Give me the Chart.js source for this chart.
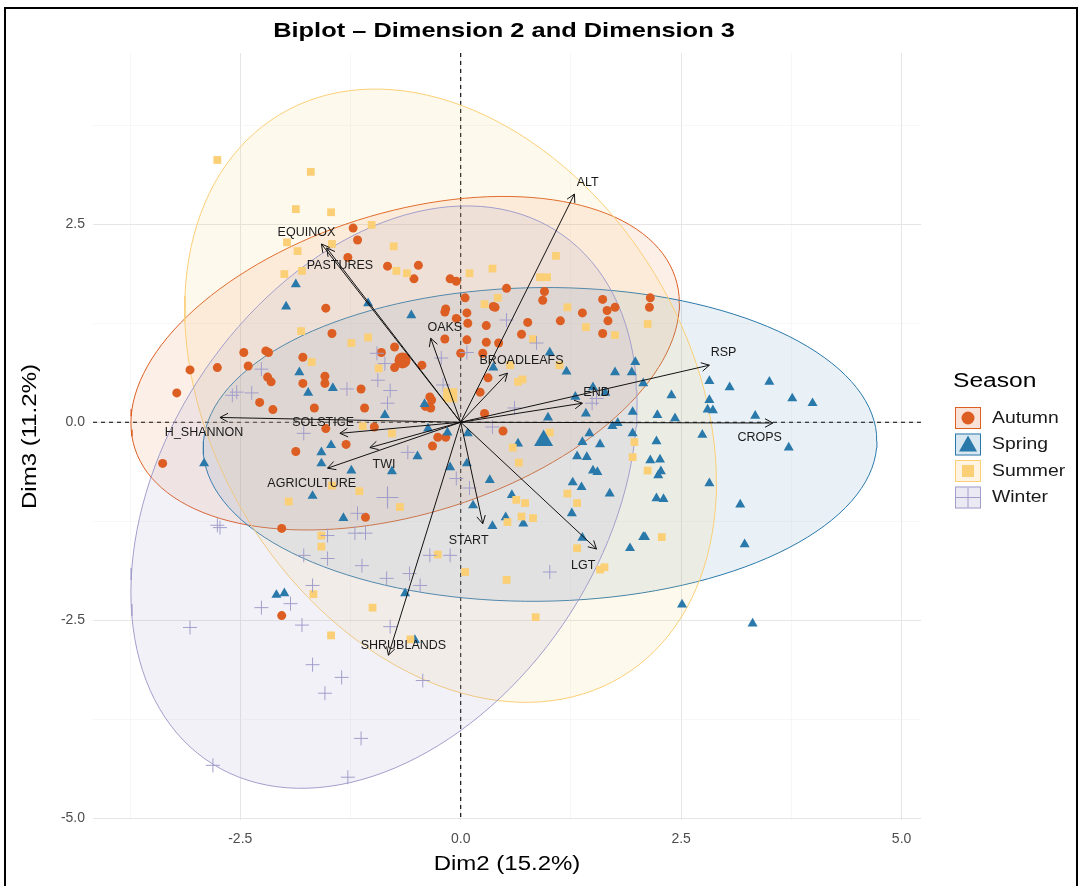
<!DOCTYPE html>
<html>
<head>
<meta charset="utf-8">
<script src="https://cdn.jsdelivr.net/npm/chart.js@4.4.0/dist/chart.umd.min.js"></script>
<style>
  body { margin: 0; background: #fff; }
</style>
</head>
<body>
<canvas id="biplot" width="1081" height="886"></canvas>
<script>
// individuals (Dim2, Dim3) per season
const autumnX = [-1.22,-1.17,-1.28,-1.53,-0.83,-0.48,-0.53,-0.12,-0.05,0.52,0.95,0.93,0.05,0.37,1.61,1.75,-0.17,2.15,2.14,-1.46,-2.46,-2.21,-2.18,-3.07,-2.76,-2.41,-1.79,-2.19,-2.15,-1.79,-1.54,-1.54,-1.13,-3.22,-2.28,-2.13,-1.66,-1.09,-1.53,-1.30,-1.87,-3.38,-2.03,-1.08,-0.18,0.07,-0.05,0.08,0.39,0.29,0.76,1.13,1.38,1.66,1.67,1.61,-0.18,0.07,0.29,0.43,0.00,0.25,0.69,-0.90,-0.75,-0.44,-0.75,0.31,0.22,0.27,0.48,-0.35,-0.33,-0.40,-0.34,-0.26,-0.17,-0.32,-0.98,-2.03];
const autumnY = [2.45,2.30,2.08,1.44,1.97,1.98,1.81,1.81,1.78,1.69,1.65,1.54,1.57,1.46,1.55,1.45,1.43,1.57,1.45,1.12,0.88,0.90,0.88,0.66,0.69,0.71,0.82,0.57,0.51,0.49,0.58,0.49,0.42,0.37,0.25,0.16,0.18,0.18,-0.08,-0.28,-0.37,-0.52,-1.34,-1.20,1.39,1.38,1.31,1.25,1.45,1.22,1.26,1.28,1.38,1.41,1.28,1.12,1.05,1.04,1.01,1.00,0.87,0.87,1.11,0.88,0.95,0.72,0.69,0.56,0.38,0.11,-0.11,0.32,0.28,0.20,0.18,-0.19,-0.19,-0.30,-0.06,-2.44];

const springX = [-1.87,-1.98,-1.05,-1.83,-1.73,-1.45,-1.47,-1.58,-1.58,-1.24,-1.68,-1.33,-2.91,-0.56,1.01,0.37,1.20,1.75,1.94,1.98,2.07,1.30,1.50,1.64,0.99,1.42,1.95,1.72,1.78,1.95,1.46,1.38,1.58,0.65,0.08,-0.15,-0.37,-0.49,-0.78,0.07,1.32,1.43,1.50,1.55,1.69,1.27,1.37,0.33,-0.12,0.14,0.36,0.51,0.71,0.58,1.26,1.38,1.92,2.07,-0.41,-0.86,2.82,3.05,3.50,3.76,3.99,2.39,2.23,2.43,2.82,2.80,2.86,3.34,2.74,3.72,2.22,2.15,2.26,2.27,2.24,2.82,2.22,2.30,3.17,2.09,3.22,2.51,3.31,-2.09,-2.00,-0.63,-0.52];
const springY = [1.74,1.46,1.50,0.63,0.37,0.43,-0.29,-0.38,-0.52,-0.61,-0.93,-1.21,-0.52,1.35,0.88,0.69,0.64,0.63,0.63,0.76,0.49,0.32,0.44,0.37,0.06,0.11,0.13,-0.05,-0.01,-0.14,-0.14,-0.25,-0.28,-0.27,-0.14,-0.13,-0.08,-0.43,-0.62,-0.52,-0.43,-0.44,-0.61,-0.63,-0.90,-0.76,-0.82,-0.73,-0.57,-1.05,-1.31,-1.20,-1.28,-0.92,-1.15,-1.46,-1.59,-1.45,0.23,0.09,0.52,0.44,0.51,0.30,0.24,0.34,0.09,0.05,0.28,0.16,0.15,0.08,-0.16,-0.32,-0.24,-0.48,-0.47,-0.62,-0.67,-0.77,-0.96,-0.97,-1.04,-1.45,-1.54,-2.30,-2.54,-2.18,-2.16,-2.16,-2.75];

const summerX = [-2.76,-1.70,-1.87,-1.47,-1.97,-1.85,-1.46,-2.00,-1.80,-1.01,-0.76,1.08,0.10,0.36,0.90,0.98,-0.73,-0.61,0.27,0.42,1.21,-1.81,-1.24,-1.05,-1.69,-1.11,-1.46,-1.15,-1.95,-1.58,-1.58,1.42,1.75,0.82,1.12,0.65,0.70,0.56,-0.93,-0.78,-0.69,0.59,0.66,1.01,1.21,1.32,0.63,0.73,0.53,0.69,0.82,-0.26,1.32,1.97,1.95,2.12,2.12,2.28,-1.67,-1.47,-1.00,0.05,0.52,0.85,1.58,1.63,-0.57];
const summerY = [3.31,3.16,2.69,2.65,2.27,2.16,2.25,1.87,1.91,2.49,2.22,2.10,1.88,1.94,1.83,1.83,1.91,1.88,1.49,1.57,1.45,1.15,1.00,1.07,0.76,-0.05,-0.80,-0.87,-1.00,-1.43,-1.57,1.20,1.10,1.05,0.72,0.51,0.54,0.72,0.68,-0.14,-1.07,-0.32,-0.51,-0.13,-0.90,-1.02,-0.98,-1.02,-1.26,-1.19,-1.21,-1.67,-1.59,-0.25,-0.44,-0.61,1.24,-1.45,-2.17,-2.69,-2.34,-1.89,-1.99,-2.46,-1.86,-1.83,-2.74];

const winterX = [-2.26,-2.54,-2.37,-2.59,-1.78,-1.29,-2.76,-2.73,-1.17,-1.51,-1.20,-1.08,-1.78,-1.51,-1.12,0.52,0.86,-0.95,-0.86,-0.80,-0.83,-0.94,-0.20,0.07,-0.22,0.36,0.61,-0.60,-0.05,0.10,1.54,1.49,-0.35,-0.12,-3.07,-2.26,-1.93,-1.80,-1.68,-1.68,-1.35,-1.54,-1.13,-2.81,-1.28,-0.84,-0.58,-0.46,-0.80,-0.43,1.01];
const winterY = [0.67,0.38,0.37,0.34,-0.14,0.42,-1.30,-1.33,-1.15,-1.43,-1.40,-1.40,-1.68,-1.72,-1.81,1.29,1.00,0.87,0.74,0.40,0.24,0.53,0.47,0.88,0.81,-0.06,0.18,-0.38,-0.71,-0.83,0.30,0.24,-1.68,-1.68,-2.59,-2.34,-2.29,-2.56,-2.06,-3.06,-3.22,-3.42,-3.99,-4.33,-4.48,-1.97,-1.91,-2.06,-2.58,-3.26,-1.89];

// group means (Autumn, Spring, Summer, Winter)
const seasons = ["Autumn", "Spring", "Summer", "Winter"];
const meanX = [-0.66, 0.94, -0.12, -0.83];
const meanY = [0.78, -0.23, 0.34, -0.95];

// concentration ellipses: x = cx + ax*cos(t), y = cy + ay*cos(t - phi)
const ellCx = [-0.63, 0.90, -0.115, -0.87];
const ellCy = [0.745, -0.28, 0.335, -0.945];
const ellAx = [3.11, 3.82, 3.015, 2.87];
const ellAy = [2.105, 1.98, 3.87, 3.675];
const ellPhi = [1.204, 1.55, 1.858, 1.238];

// variable arrows
const varNames = ["ALT","EQUINOX","PASTURES","OAKS","BROADLEAFS","END","RSP","CROPS","LGT","START","SHRUBLANDS","AGRICULTURE","SOLSTICE","TWI","H_SHANNON"];
const varX = [1.29,-1.58,-1.52,-0.34,0.53,1.38,2.82,3.54,1.54,0.25,-0.82,-1.51,-1.37,-1.03,-2.73];
const varY = [2.88,2.25,2.20,1.06,0.62,0.24,0.72,-0.01,-1.60,-1.28,-2.94,-0.58,-0.14,-0.32,0.06];
const labX = [1.44,-1.75,-1.37,-0.18,0.69,1.54,2.98,3.39,1.39,0.09,-0.65,-1.69,-1.56,-0.87,-2.91];
const labY = [3.03,2.40,1.98,1.20,0.78,0.38,0.88,-0.19,-1.81,-1.49,-2.82,-0.77,-0.01,-0.53,-0.13];

// axes
const xTicks = [-3.75,-2.5,-1.25,0,1.25,2.5,3.75,5];
const yTicks = [-5,-3.75,-2.5,-1.25,0,1.25,2.5,3.75];

const colors = ["#DD5E22", "#2A79AB", "#FBCF76", "#A29ECB"];
const fills = ["rgba(221,94,34,0.10)", "rgba(42,121,171,0.10)", "rgba(251,207,118,0.13)", "rgba(162,158,203,0.14)"];
const keyFills = ["rgba(221,94,34,0.18)", "rgba(42,121,171,0.18)", "rgba(251,207,118,0.22)", "rgba(162,158,203,0.22)"];
const shapes = ["circle", "triangle", "rect", "cross"];
const radii = [4.5, 5.8, 5.5, 7];
const meanRadii = [8, 11, 10, 11];

const FONT = "'Liberation Sans', Arial, sans-serif";

function pts(xs, ys) {
  return xs.map((x, i) => ({ x: x, y: ys[i] }));
}

function ellipse(i) {
  const out = [];
  for (let k = 0; k <= 144; k++) {
    const t = (2 * Math.PI * k) / 144;
    out.push({ x: ellCx[i] + ellAx[i] * Math.cos(t), y: ellCy[i] + ellAy[i] * Math.cos(t - ellPhi[i]) });
  }
  return out;
}

// text stretched horizontally (the reference text is wider than Arial)
function wideText(ctx, txt, x, y, sx, rot) {
  ctx.save();
  ctx.translate(x, y);
  if (rot) ctx.rotate(rot);
  ctx.scale(sx, 1);
  ctx.fillText(txt, 0, 0);
  ctx.restore();
}

const groupX = [autumnX, springX, summerX, winterX];
const groupY = [autumnY, springY, summerY, winterY];

let datasets = [];
seasons.forEach((s, i) => {
  datasets.push({
    label: s + " ellipse",
    data: ellipse(i),
    showLine: true,
    fill: "shape",
    backgroundColor: fills[i],
    borderColor: colors[i],
    borderWidth: 1,
    pointRadius: 0,
    tension: 0,
    order: 20 - i,
  });
});
seasons.forEach((s, i) => {
  datasets.push({
    label: s,
    data: pts(groupX[i], groupY[i]),
    pointStyle: shapes[i],
    pointRadius: radii[i],
    backgroundColor: colors[i],
    borderColor: colors[i],
    borderWidth: i == 3 ? 1 : 0,
    order: 10 - i,
  });
  datasets.push({
    label: s + " mean",
    data: [{ x: meanX[i], y: meanY[i] }],
    pointStyle: shapes[i],
    pointRadius: meanRadii[i],
    backgroundColor: colors[i],
    borderColor: colors[i],
    borderWidth: i == 3 ? 1.2 : 0,
    order: 5,
  });
});
varNames.forEach((n, i) => {
  datasets.push({
    label: n,
    data: [{ x: 0, y: 0 }, { x: varX[i], y: varY[i] }],
    showLine: true,
    borderColor: "#111",
    borderWidth: 1,
    pointRadius: 0,
    order: 1,
  });
});

const biplotDecor = {
  id: "biplotDecor",
  beforeDatasetsDraw(chart) {
    const { ctx, chartArea, scales } = chart;
    const x0 = scales.x.getPixelForValue(0);
    const y0 = scales.y.getPixelForValue(0);
    ctx.save();
    ctx.strokeStyle = "#000";
    ctx.lineWidth = 1.1;
    ctx.setLineDash([4, 4]);
    ctx.beginPath();
    ctx.moveTo(x0, chartArea.top);
    ctx.lineTo(x0, chartArea.bottom);
    ctx.moveTo(chartArea.left, y0);
    ctx.lineTo(chartArea.right, y0);
    ctx.stroke();
    ctx.restore();
  },
  afterDatasetsDraw(chart) {
    const { ctx, scales } = chart;
    const ox = scales.x.getPixelForValue(0);
    const oy = scales.y.getPixelForValue(0);
    ctx.save();
    ctx.strokeStyle = "#111";
    ctx.lineWidth = 1;
    varNames.forEach((n, i) => {
      const tx = scales.x.getPixelForValue(varX[i]);
      const ty = scales.y.getPixelForValue(varY[i]);
      const ang = Math.atan2(ty - oy, tx - ox);
      ctx.beginPath();
      ctx.moveTo(tx - 9 * Math.cos(ang - 0.5), ty - 9 * Math.sin(ang - 0.5));
      ctx.lineTo(tx, ty);
      ctx.lineTo(tx - 9 * Math.cos(ang + 0.5), ty - 9 * Math.sin(ang + 0.5));
      ctx.stroke();
    });
    ctx.fillStyle = "#1a1a1a";
    ctx.font = "12.5px " + FONT;
    ctx.textAlign = "center";
    ctx.textBaseline = "middle";
    varNames.forEach((n, i) => {
      ctx.fillText(n, scales.x.getPixelForValue(labX[i]), scales.y.getPixelForValue(labY[i]));
    });
    ctx.restore();
  },
  afterDraw(chart) {
    const { ctx, chartArea } = chart;
    const midX = (chartArea.left + chartArea.right) / 2;
    const midY = (chartArea.top + chartArea.bottom) / 2;
    ctx.save();
    ctx.fillStyle = "#000";
    ctx.textAlign = "center";
    ctx.textBaseline = "middle";
    // title
    ctx.font = "bold 21px " + FONT;
    wideText(ctx, "Biplot \u2013 Dimension 2 and Dimension 3", midX - 3, 31, 1.21);
    // axis titles
    ctx.font = "20px " + FONT;
    wideText(ctx, "Dim2 (15.2%)", midX, 864, 1.2);
    wideText(ctx, "Dim3 (11.2%)", 30, midY, 1.2, -Math.PI / 2);
    // legend
    const lx = chartArea.right + 32;
    ctx.textAlign = "left";
    ctx.font = "20px " + FONT;
    wideText(ctx, "Season", lx, 381, 1.23);
    ctx.font = "17px " + FONT;
    seasons.forEach((s, i) => {
      const cy = 418 + i * 26.5;
      ctx.fillStyle = keyFills[i];
      ctx.fillRect(lx + 2, cy - 11, 26, 22);
      ctx.strokeStyle = colors[i];
      ctx.lineWidth = 1;
      ctx.strokeRect(lx + 2.5, cy - 10.5, 25, 21);
      ctx.fillStyle = colors[i];
      ctx.beginPath();
      if (i == 0) {
        ctx.arc(lx + 15, cy, 6.5, 0, 2 * Math.PI);
        ctx.fill();
      } else if (i == 1) {
        ctx.moveTo(lx + 15, cy - 9);
        ctx.lineTo(lx + 24, cy + 7);
        ctx.lineTo(lx + 6, cy + 7);
        ctx.closePath();
        ctx.fill();
      } else if (i == 2) {
        ctx.fillRect(lx + 9, cy - 6, 12, 12);
      } else {
        ctx.moveTo(lx + 15, cy - 10);
        ctx.lineTo(lx + 15, cy + 10);
        ctx.moveTo(lx + 3, cy);
        ctx.lineTo(lx + 27, cy);
        ctx.stroke();
      }
      ctx.fillStyle = "#1a1a1a";
      wideText(ctx, s, lx + 39, cy, 1.14);
    });
    // outer frame
    ctx.strokeStyle = "#000";
    ctx.lineWidth = 2;
    ctx.strokeRect(5, 8, 1072, 900);
    ctx.restore();
  },
};

const ctx = document.getElementById("biplot").getContext("2d");
const biplot = new Chart(ctx, {
  type: "scatter",
  data: { datasets: datasets },
  options: {
    responsive: false,
    animation: false,
    events: [],
    layout: { padding: { left: 14, right: 160, top: 53, bottom: 0 } },
    plugins: { legend: { display: false }, tooltip: { enabled: false } },
    scales: {
      x: {
        type: "linear",
        min: -4.17,
        max: 5.22,
        afterBuildTicks: (s) => { s.ticks = xTicks.map((v) => ({ value: v })); },
        afterFit: (s) => { s.height = 66; },
        border: { display: false },
        grid: {
          drawTicks: false,
          color: (c) => (c.tick && c.tick.value % 2.5 == 0 ? "#E6E6E6" : "#F1F1F1"),
          lineWidth: (c) => (c.tick && c.tick.value % 2.5 == 0 ? 1 : 0.6),
        },
        ticks: {
          autoSkip: false,
          maxRotation: 0,
          padding: 11,
          color: "#4D4D4D",
          font: { family: FONT, size: 14 },
          callback: (v) => (v % 2.5 == 0 ? v.toFixed(1) : ""),
        },
        title: { display: false },
      },
      y: {
        type: "linear",
        min: -5.02,
        max: 4.66,
        afterBuildTicks: (s) => { s.ticks = yTicks.map((v) => ({ value: v })); },
        afterFit: (s) => { s.width = 79; },
        border: { display: false },
        grid: {
          drawTicks: false,
          color: (c) => (c.tick && c.tick.value % 2.5 == 0 ? "#E6E6E6" : "#F1F1F1"),
          lineWidth: (c) => (c.tick && c.tick.value % 2.5 == 0 ? 1 : 0.6),
        },
        ticks: {
          autoSkip: false,
          padding: 8,
          color: "#4D4D4D",
          font: { family: FONT, size: 14 },
          callback: (v) => (v % 2.5 == 0 ? v.toFixed(1) : ""),
        },
        title: { display: false },
      },
    },
  },
  plugins: [biplotDecor],
});
</script>
</body>
</html>
